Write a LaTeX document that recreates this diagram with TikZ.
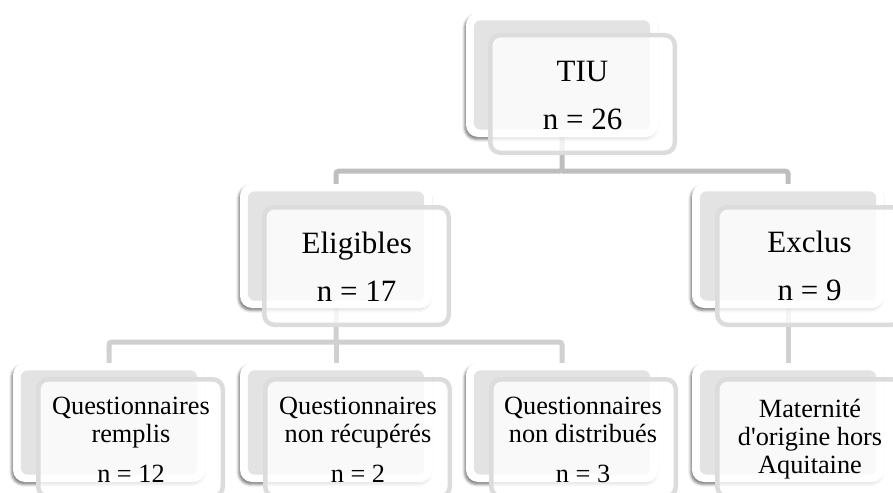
\documentclass[tikz,border=0pt]{standalone}
\usepackage{fontspec}
\setmainfont{Liberation Serif}[Ligatures=TeXOff]
\usetikzlibrary{shadows.blur}
\definecolor{cardgray}{HTML}{E3E3E3}
\definecolor{frontline}{HTML}{DCDCDC}
\definecolor{connA}{HTML}{BEBEBE}
\definecolor{connB}{HTML}{D0D0D0}
\pgfdeclarelayer{background}
\pgfsetlayers{background,main}
\tikzset{
  backcard/.style={rectangle, rounded corners=12pt, fill=white, minimum width=192pt, inner sep=0pt,
    blur shadow={shadow xshift=-1.5pt, shadow yshift=-2.5pt, shadow blur radius=2.5pt, shadow opacity=50}},
  frontcard/.style={rectangle, rounded corners=10pt, fill=white, fill opacity=0.8, draw=frontline,
    line width=4.5pt, minimum width=184.5pt, minimum height=117.5pt, inner sep=0pt},
  bigtxt/.style={align=center, inner sep=0pt, font=\fontsize{31}{36.6}\selectfont},
  smalltxt/.style={align=center, inner sep=0pt, font=\fontsize{26.3}{28}\selectfont},
  connone/.style={draw=connA, line width=5pt, rounded corners=2.5pt},
  conntwo/.style={draw=connB, line width=5pt, rounded corners=2.5pt},
}
\newcommand\mkcard[6]{%
  \node[backcard, minimum height=#4pt] (#1B) at ({#2+96}, {#3+#4/2}) {};
  \fill[cardgray, rounded corners=7pt] ([shift={(8,7.5)}]#1B.north west) rectangle ([shift={(-8,-7.5)}]#1B.south east);
  \node[frontcard] (#1F) at ({#5+94.5}, {#6+61}) {};
}
\begin{document}
\begin{tikzpicture}[x=1pt, y=-1pt]
\useasboundingbox (0,0) rectangle (893,492);
\clip (0,0) rectangle (893,492);
\mkcard{tiu}{466}{13}{124}{488}{33}
\mkcard{eli}{240}{184}{124}{262}{205}
\mkcard{exc}{692}{184}{124}{715}{205}
\mkcard{qr}{13}{363}{119}{36}{377}
\mkcard{qnr}{240}{363}{119}{263}{377}
\mkcard{qnd}{466}{363}{119}{489}{377}
\mkcard{mat}{692}{363}{119}{715}{377}
\node[bigtxt] (tiuT) at (582.5, 95.9) {TIU\\[11.4pt]n = 26};
\node[bigtxt] (eliT) at (356.7, 266.5) {Eligibles\\[11.1pt]n = 17};
\node[bigtxt] (excT) at (809.5, 266) {Exclus\\[11.1pt]n = 9};
\node[smalltxt] (qrT) at (131, 440) {Questionnaires\\remplis\\[12pt]n = 12};
\node[smalltxt] (qnrT) at (358, 440) {Questionnaires\\non récupérés\\[12pt]n = 2};
\node[smalltxt] (qndT) at (583, 440) {Questionnaires\\non distribués\\[12pt]n = 3};
\node[smalltxt] (matT) at (810, 438.7) {Maternité\\d'origine hors\\Aquitaine};
\begin{pgfonlayer}{background}
\coordinate (j1) at ([yshift=-34pt]tiuB.south);
\coordinate (j2) at ([yshift=-34pt]eliB.south);
\draw[connone] (tiuB.south) -- (j1) -| (eliB.north);
\draw[connone] (j1) -| (excB.north);
\draw[conntwo] (eliB.south) -- (j2) -| (qrB.north);
\draw[conntwo] (j2) -| (qndB.north);
\draw[conntwo] (j2) -- (qnrB.north);
\draw[conntwo] (excB.south) -- (matB.north);
\end{pgfonlayer}
\end{tikzpicture}
\end{document}
